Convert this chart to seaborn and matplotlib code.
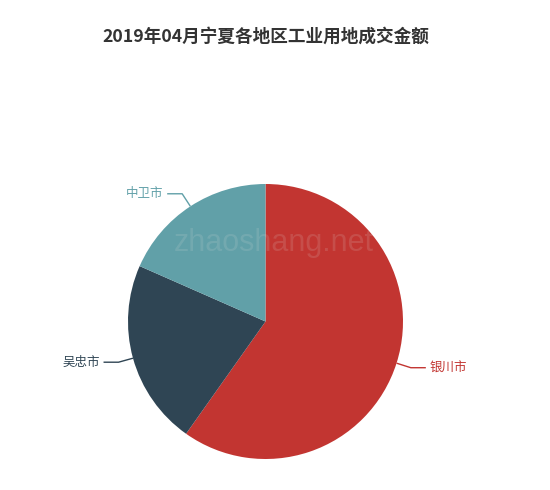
import numpy as np
import matplotlib.pyplot as plt
import seaborn as sns

# 2019年04月宁夏各地区工业用地成交金额 (shares)
cities = ['银川市', '吴忠市', '中卫市']
amounts = [59.8, 21.8, 18.4]
colors = ['#c23531', '#2f4554', '#61a0a8']
title = '2019年04月宁夏各地区工业用地成交金额'

sns.set_theme(style='white')
plt.rcParams['font.family'] = ['Noto Sans CJK SC', 'DejaVu Sans']

fig = plt.figure(figsize=(5.5, 4.9), dpi=100)
ax = fig.add_axes([0, 0, 1, 1])

cx, cy, r = 265.5, 168.5, 137.5
wedges, _ = ax.pie(amounts, colors=colors, startangle=90, counterclock=False,
                   center=(cx, cy), radius=r, frame=True,
                   wedgeprops=dict(linewidth=0))
ax.set_xlim(0, 550)
ax.set_ylim(0, 490)
ax.set_aspect('equal')
ax.axis('off')

# labels with leader lines, echarts style
for w, name, col in zip(wedges, cities, colors):
    mid = np.deg2rad((w.theta1 + w.theta2) / 2)
    x0, y0 = cx + r * np.cos(mid), cy + r * np.sin(mid)
    x1, y1 = cx + (r + 15) * np.cos(mid), cy + (r + 15) * np.sin(mid)
    side = 1 if np.cos(mid) >= 0 else -1
    x2 = x1 + side * 15
    ax.plot([x0, x1, x2], [y0, y1, y1], color=col, lw=1, solid_capstyle='butt')
    ax.text(x2 + side * 4, y1, name, color=col, fontsize=9,
            ha='left' if side > 0 else 'right', va='center')

ax.text(265.5, 490 - 37, title, fontsize=12.7, fontweight='bold', color='#333333',
        ha='center', va='center')

# watermark
ax.text(274, 490 - 243, 'zhaoshang.net', fontsize=22, color='#dddddd', alpha=0.15,
        ha='center', va='center', family=['Liberation Sans', 'DejaVu Sans'],
        zorder=10)

fig.savefig('out.png', dpi=100)
